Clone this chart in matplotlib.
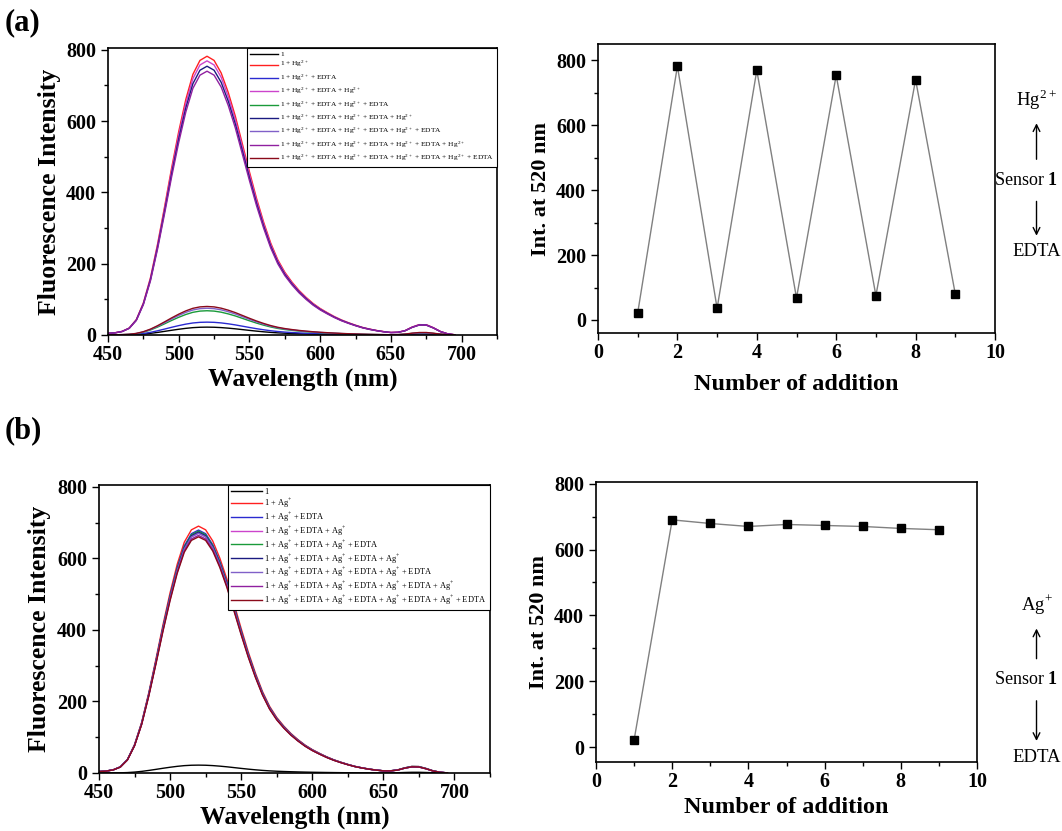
import matplotlib
matplotlib.use("Agg")
import matplotlib.pyplot as plt
from matplotlib.patches import FancyArrowPatch
from matplotlib.ticker import MultipleLocator
import numpy as np

plt.rcParams['font.family'] = ['Liberation Serif', 'DejaVu Serif']
plt.rcParams['mathtext.fontset'] = 'custom'
plt.rcParams['mathtext.rm'] = 'Liberation Serif'
plt.rcParams['mathtext.bf'] = 'Liberation Serif:bold'

# emission spectra sampled every 5 nm
wavelength = list(range(450, 700, 5))

# normalised shape of the 520 nm emission band
band_520 = [0.006, 0.008, 0.013, 0.025, 0.055, 0.115, 0.205, 0.325, 0.46, 0.60,
            0.73, 0.845, 0.935, 0.985, 1.0, 0.985, 0.94, 0.87, 0.785, 0.685,
            0.585, 0.49, 0.405, 0.33, 0.27, 0.225, 0.19, 0.16, 0.135, 0.113,
            0.095, 0.08, 0.066, 0.054, 0.044, 0.035, 0.027, 0.021, 0.016, 0.012,
            0.009, 0.007, 0.005, 0.004, 0.003, 0.002, 0.001, 0.0, 0.0, 0.0]
# normalised shape of the weak band near 672 nm
band_672 = [0.0] * 40 + [0.0, 0.08, 0.3, 0.68, 0.95, 0.97, 0.7, 0.35, 0.12, 0.02]

curve_colors = ['black', '#ff2020', '#2a2ad0', '#cc44cc', '#1a9a3a',
                '#1a1a80', '#8060c8', '#9020a0', '#8a0a1a']

# intensity at 520 nm after each addition
additions = [1, 2, 3, 4, 5, 6, 7, 8, 9]
hg_int520 = [22, 782, 36, 769, 68, 754, 75, 740, 80]
hg_int672 = [3, 28, 4, 28, 6, 27, 6, 27, 7]
ag_int520 = [22, 690, 679, 670, 676, 673, 670, 664, 660]
ag_int672 = [2, 17, 17, 16, 17, 16, 16, 16, 16]

hg_steps = ['Hg$^{2+}$', 'EDTA', 'Hg$^{2+}$', 'EDTA', 'Hg$^{2+}$', 'EDTA', 'Hg$^{2+}$', 'EDTA']
ag_steps = ['Ag$^{+}$', 'EDTA', 'Ag$^{+}$', 'EDTA', 'Ag$^{+}$', 'EDTA', 'Ag$^{+}$', 'EDTA']


def legend_labels(steps):
    labels = ['1']
    for i in range(len(steps)):
        labels.append(' + '.join(['1'] + steps[:i + 1]))
    return labels


def style_axes(ax):
    ax.tick_params(which='both', direction='out', top=False, right=False,
                   labelsize=14.5, width=1)
    ax.tick_params(axis='x', pad=2)
    ax.tick_params(which='major', length=5)
    ax.tick_params(which='minor', length=3)
    for lab in ax.get_xticklabels() + ax.get_yticklabels():
        lab.set_fontweight('bold')
    for s in ax.spines.values():
        s.set_linewidth(1.2)


def spectra_panel(ax, int520, int672, steps, fsize, spacing):
    b520 = np.array(band_520)
    b672 = np.array(band_672)
    for i, lab in enumerate(legend_labels(steps)):
        y = int520[i] * b520 + int672[i] * b672
        ax.plot(wavelength, y, color=curve_colors[i], lw=1.0, label=lab)
    ax.set_xlim(450, 725)
    ax.set_ylim(0, 805)
    ax.xaxis.set_major_locator(MultipleLocator(50))
    ax.xaxis.set_minor_locator(MultipleLocator(25))
    ax.yaxis.set_major_locator(MultipleLocator(200))
    ax.yaxis.set_minor_locator(MultipleLocator(100))
    ax.set_xlabel('Wavelength (nm)', fontsize=18.5, fontweight='bold', labelpad=2)
    ax.set_ylabel('Fluorescence Intensity', fontsize=18.5, fontweight='bold')
    style_axes(ax)
    leg = ax.legend(loc='upper right', fontsize=fsize, handlelength=3.7,
                    labelspacing=spacing, borderaxespad=0.0, fancybox=False,
                    framealpha=1, edgecolor='black', handletextpad=0.3,
                    borderpad=0.4)
    leg.get_frame().set_linewidth(0.8)


def addition_panel(ax, values, ylim, pad):
    ax.plot(additions, values, color='#808080', lw=1.0, marker='s',
            markersize=6, markerfacecolor='black', markeredgecolor='black')
    ax.set_xlim(0, 10)
    ax.set_ylim(*ylim)
    ax.xaxis.set_major_locator(MultipleLocator(2))
    ax.xaxis.set_minor_locator(MultipleLocator(1))
    ax.yaxis.set_major_locator(MultipleLocator(200))
    ax.yaxis.set_minor_locator(MultipleLocator(100))
    ax.set_xlabel('Number of addition', fontsize=17.5, fontweight='bold', labelpad=pad)
    ax.set_ylabel('Int. at 520 nm', fontsize=16, fontweight='bold')
    style_axes(ax)


def side_note(fig, ion, y_ion, y_sensor, y_edta):
    x = 0.976
    fig.text(x, y_ion, ion, ha='center', va='center', fontsize=13.5)
    fig.text(0.966, y_sensor, 'Sensor $\\mathbf{1}$', ha='center', va='center', fontsize=13)
    fig.text(x, y_edta, 'EDTA', ha='center', va='center', fontsize=13.5)
    for a, b in ((y_sensor + 0.022, y_ion - 0.025), (y_sensor - 0.022, y_edta + 0.016)):
        fig.add_artist(FancyArrowPatch((x, a), (x, b), transform=fig.transFigure,
                                       arrowstyle='->', mutation_scale=12, lw=1.0,
                                       color='black'))


fig = plt.figure(figsize=(10.62, 8.31), dpi=100)

ax1 = fig.add_axes([0.1017, 0.5969, 0.3663, 0.3453])
ax2 = fig.add_axes([0.5631, 0.5993, 0.3738, 0.3477])
ax3 = fig.add_axes([0.0932, 0.0698, 0.3682, 0.3466])
ax4 = fig.add_axes([0.5612, 0.0830, 0.3588, 0.3370])

spectra_panel(ax1, hg_int520, hg_int672, hg_steps, 5.3, 0.32)
addition_panel(ax2, hg_int520, (-40, 850), 8)
spectra_panel(ax3, ag_int520, ag_int672, ag_steps, 6.0, 0.02)
addition_panel(ax4, ag_int520, (-45, 805), 4)

side_note(fig, 'Hg$^{2+}$', 0.880, 0.783, 0.697)
side_note(fig, 'Ag$^{+}$', 0.272, 0.182, 0.089)

fig.text(0.004, 0.973, '(a)', fontsize=22, fontweight='bold', va='center')
fig.text(0.004, 0.482, '(b)', fontsize=22, fontweight='bold', va='center')

fig.savefig('out.png', dpi=100)
